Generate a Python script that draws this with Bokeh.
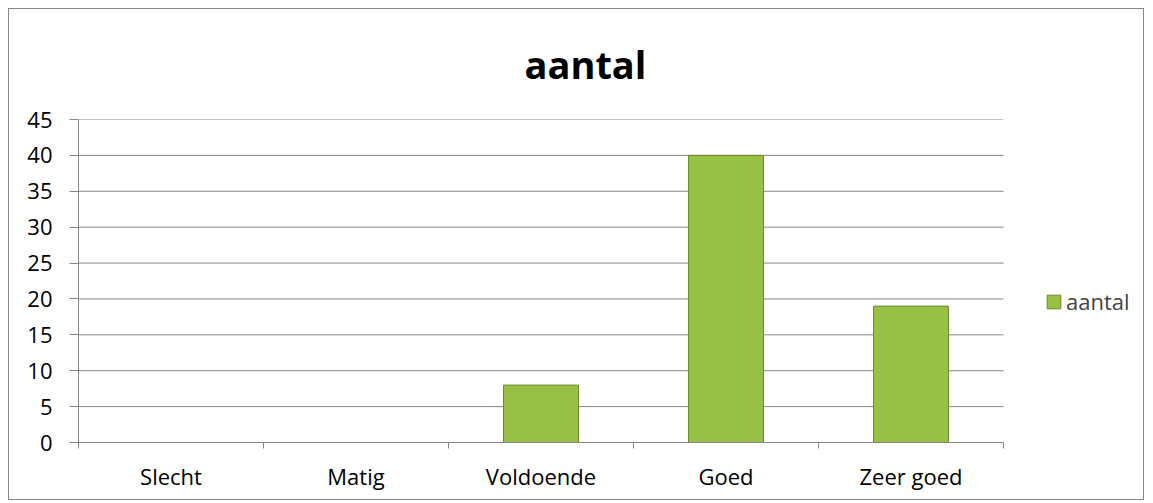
from bokeh.plotting import figure
from bokeh.models import Range1d, FixedTicker, Legend, LegendItem
from bokeh.embed import file_html
from bokeh.resources import INLINE

categories = ["Slecht", "Matig", "Voldoende", "Goed", "Zeer goed"]
values = [0, 0, 8, 40, 19]
y_ticks = [0, 5, 10, 15, 20, 25, 30, 35, 40, 45]
series_name = "aantal"

FONT = "Open Sans"
GRAY = "#868686"

# layout (pixels): the frame also covers the legend area on the right;
# the categories occupy the first CAT_W pixels of it.
W, H = 1136, 492
MB_LEFT, MB_TOP, MB_BOTTOM = 69, 110, 59
FRAME_W = W - MB_LEFT
CAT_W = 925
n = len(categories)
x_end = n * FRAME_W / CAT_W

p = figure(width=W, height=H, output_backend="svg", toolbar_location=None,
           x_range=Range1d(0, x_end), y_range=Range1d(0, 45),
           min_border_left=MB_LEFT, min_border_right=0, min_border_top=MB_TOP,
           min_border_bottom=MB_BOTTOM, title=series_name)
p.margin = (8, 0, 0, 8)
p.styles = {"border": "1px solid #868686"}
p.outline_line_color = None
p.background_fill_color = "white"

p.title.align = "left"
p.title.offset = 446
p.title.text_font = FONT
p.title.text_font_style = "bold"
p.title.text_font_size = "38px"
p.title.text_color = "black"
p.title.vertical_align = "top"
p.title.standoff = 56

# horizontal gridlines limited to the category area
p.segment(x0=[0] * (len(y_ticks) - 1), x1=[n] * (len(y_ticks) - 1),
          y0=y_ticks[1:], y1=y_ticks[1:], line_color=GRAY, line_width=1, level="underlay")

xs = [i + 0.5 for i in range(n)]
r = p.vbar(x=xs, top=values, width=0.405, bottom=0,
           fill_color="#97C044", line_color="#6B8A2A", line_width=1)

# x axis: labels at centers, ticks at boundaries (minor ticks)
p.xaxis.bounds = (0, n)
p.xaxis.ticker = FixedTicker(ticks=xs, minor_ticks=list(range(n + 1)))
p.xaxis.major_label_overrides = {x: c for x, c in zip(xs, categories)}
p.xaxis.major_tick_out = 0
p.xaxis.major_tick_in = 0
p.xaxis.minor_tick_out = 6
p.xaxis.minor_tick_in = 0
p.xaxis.minor_tick_line_color = GRAY
p.xaxis.axis_line_color = GRAY
p.xaxis.major_label_text_font = FONT
p.xaxis.major_label_text_font_size = "22px"
p.xaxis.major_label_text_color = "black"
p.xaxis.major_label_standoff = 12
p.xgrid.visible = False
p.ygrid.visible = False

p.yaxis.ticker = FixedTicker(ticks=y_ticks, minor_ticks=[])
p.yaxis.major_tick_out = 9
p.yaxis.major_tick_in = 0
p.yaxis.major_tick_line_color = GRAY
p.yaxis.axis_line_color = GRAY
p.yaxis.major_label_text_font = FONT
p.yaxis.major_label_text_font_size = "22px"
p.yaxis.major_label_text_color = "black"
p.yaxis.major_label_standoff = 17

legend = Legend(items=[LegendItem(label=series_name, renderers=[r])],
                location=(967, 126), border_line_color=None, background_fill_alpha=0,
                glyph_width=17, glyph_height=17, label_text_font=FONT,
                label_text_font_size="22px", padding=0, margin=0, label_standoff=4,
                label_height=15)
p.add_layout(legend)

open("out.html", "w").write(file_html(p, INLINE))
